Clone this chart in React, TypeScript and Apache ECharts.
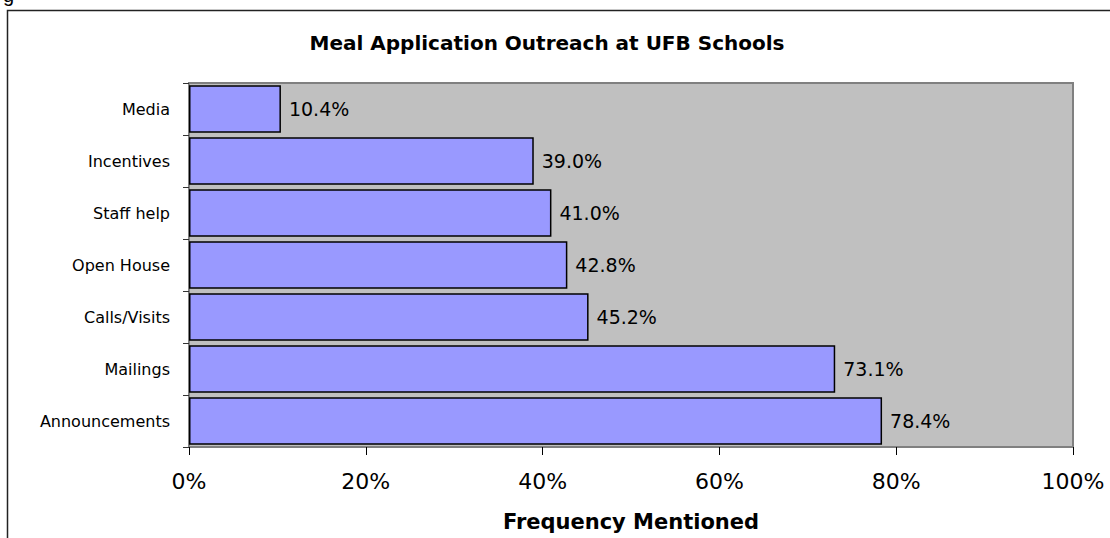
import React, { useEffect, useRef } from "react";
import * as echarts from "echarts";

const categories = [
  "Announcements",
  "Mailings",
  "Calls/Visits",
  "Open House",
  "Staff help",
  "Incentives",
  "Media",
];
const values = [78.4, 73.1, 45.2, 42.8, 41.0, 39.0, 10.4];
const xMin = 0;
const xMax = 100;
const xInterval = 20;
const titleText = "Meal Application Outreach at UFB Schools";
const xAxisName = "Frequency Mentioned";

const FONT = "DejaVu Sans";

export default function App() {
  const ref = useRef<HTMLDivElement>(null);
  useEffect(() => {
    if (!ref.current) return;
    const chart = echarts.init(ref.current, undefined, { renderer: "svg" });
    chart.setOption({
      animation: false,
      backgroundColor: "#ffffff",
      title: {
        text: titleText,
        left: 542,
        top: 28,
        textAlign: "center",
        textStyle: {
          fontFamily: FONT,
          fontWeight: "bold",
          fontSize: 20,
          color: "#000",
        },
      },
      graphic: [
        {
          type: "rect",
          shape: { x: 7.5, y: 10.5, width: 1200, height: 700 },
          style: { fill: "none", stroke: "#222", lineWidth: 1.5 },
          silent: true,
          z: 0,
        },
        {
          type: "text",
          x: 3,
          y: 5,
          style: {
            text: "g",
            fontFamily: "Liberation Sans",
            fontSize: 20,
            fill: "#000",
            textVerticalAlign: "bottom",
          },
          silent: true,
        },
      ],
      grid: {
        left: 189,
        right: 37,
        top: 83,
        bottom: 91,
        show: true,
        backgroundColor: "#C0C0C0",
        borderColor: "#808080",
        borderWidth: 2,
        containLabel: false,
      },
      xAxis: {
        type: "value",
        min: xMin,
        max: xMax,
        interval: xInterval,
        name: xAxisName,
        nameLocation: "middle",
        nameGap: 64,
        nameTextStyle: {
          fontFamily: FONT,
          fontWeight: "bold",
          fontSize: 21,
          color: "#000",
        },
        axisLine: { show: true, lineStyle: { color: "#808080", width: 2 } },
        axisTick: { show: true, length: 8, lineStyle: { color: "#000", width: 1 } },
        splitLine: { show: false },
        axisLabel: {
          formatter: "{value}%",
          fontFamily: FONT,
          fontSize: 22,
          color: "#000",
          margin: 23,
        },
      },
      yAxis: {
        type: "category",
        data: categories,
        axisLine: { show: false },
        axisTick: { show: true, length: 6, lineStyle: { color: "#333", width: 1 } },
        axisLabel: {
          fontFamily: FONT,
          fontSize: 16,
          color: "#000",
          margin: 19,
        },
      },
      series: [
        {
          type: "bar",
          data: values,
          barCategoryGap: "9%",
          itemStyle: {
            color: "#9999FF",
            borderColor: "#000",
            borderWidth: 1.5,
          },
          label: {
            show: true,
            position: "right",
            distance: 8,
            fontFamily: FONT,
            fontSize: 19,
            color: "#000",
            formatter: (p: any) => Number(p.value).toFixed(1) + "%",
          },
        },
      ],
    });
    return () => chart.dispose();
  }, []);
  return (
    <div
      ref={ref}
      style={{ position: "fixed", left: 0, top: 0, width: 1110, height: 538 }}
    />
  );
}
